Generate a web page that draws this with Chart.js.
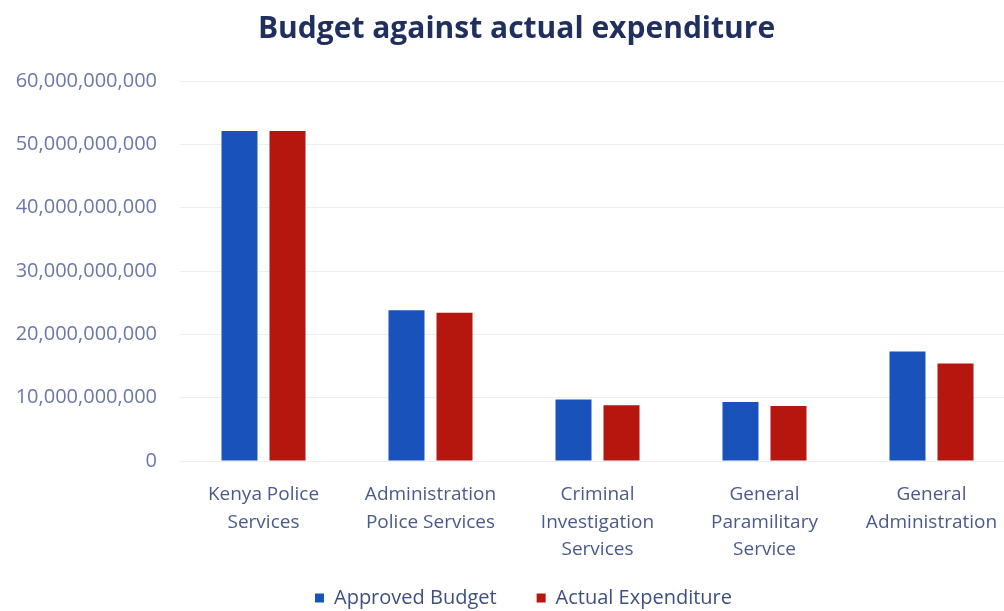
<!DOCTYPE html>
<html>
<head>
<meta charset="utf-8">
<script src="https://cdn.jsdelivr.net/npm/chart.js@4"></script>
<style>
html,body{margin:0;padding:0;background:#fff;overflow:hidden;width:1004px;height:611px;}
#wrap{position:absolute;left:0;top:0;width:1034px;height:611px;}
</style>
</head>
<body>
<div id="wrap"><canvas id="c" width="1034" height="611"></canvas></div>
<script>
const categories = [
  ["Kenya Police", "Services"],
  ["Administration", "Police Services"],
  ["Criminal", "Investigation", "Services"],
  ["General", "Paramilitary", "Service"],
  ["General", "Administration"]
];
const approvedBudget = [52100000000, 23800000000, 9700000000, 9300000000, 17300000000];
const actualExpenditure = [52100000000, 23400000000, 8800000000, 8700000000, 15400000000];
const yTicks = [0, 10000000000, 20000000000, 30000000000, 40000000000, 50000000000, 60000000000];

const fontFamily = "'Open Sans', 'Noto Sans', sans-serif";

const layoutTweaks = {
  id: 'layoutTweaks',
  afterInit(chart) {
    const lg = chart.legend;
    if (!lg) return;
    const orig = lg.fit.bind(lg);
    lg.fit = function () { orig(); this.height = 30; };
  },
  afterLayout(chart) {
    const lg = chart.legend;
    if (lg) {
      lg.top = 548; lg.bottom = 611; lg.height = 63;
      lg.left += 12; lg.right += 12;
    }
    const t = chart.titleBlock;
    if (t) { t.left += 5; t.right += 5; }
  }
};

new Chart(document.getElementById('c'), {
  type: 'bar',
  plugins: [layoutTweaks],
  data: {
    labels: categories,
    datasets: [
      { label: 'Approved Budget', data: approvedBudget, backgroundColor: '#1a52bb', categoryPercentage: 0.575, barPercentage: 0.75 },
      { label: 'Actual Expenditure', data: actualExpenditure, backgroundColor: '#b5170f', categoryPercentage: 0.575, barPercentage: 0.75 }
    ]
  },
  options: {
    responsive: false,
    animation: false,
    layout: { padding: { left: 8, right: 19, top: 0, bottom: 0 } },
    plugins: {
      title: {
        display: true,
        text: 'Budget against actual expenditure',
        color: '#1f2f5e',
        font: { family: fontFamily, size: 30, weight: '700', lineHeight: 1.2 },
        padding: { top: 11, bottom: 34 }
      },
      legend: {
        position: 'bottom',
        labels: {
          color: '#3f4f82',
          font: { family: fontFamily, size: 20 },
          boxWidth: 9,
          boxHeight: 9,
          padding: 40
        }
      },
      tooltip: { enabled: false }
    },
    scales: {
      x: {
        grid: { display: false, drawBorder: false },
        border: { display: false },
        afterFit: (axis) => { axis.height = 120; },
        ticks: {
          color: '#4a5a8c',
          font: { family: fontFamily, size: 19, lineHeight: 1.45 },
          maxRotation: 0,
          autoSkip: false,
          padding: 12
        }
      },
      y: {
        min: 0,
        max: 60000000000,
        afterBuildTicks: (axis) => { axis.ticks = yTicks.map(v => ({ value: v })); },
        afterFit: (axis) => { axis.width = 172; },
        grid: { color: 'rgba(200,200,225,0.3)', drawTicks: false },
        border: { display: false },
        ticks: {
          color: '#6b78a8',
          font: { family: fontFamily, size: 20 },
          padding: 23,
          callback: (v) => Number(v).toLocaleString('en-US')
        }
      }
    }
  }
});
</script>
</body>
</html>
